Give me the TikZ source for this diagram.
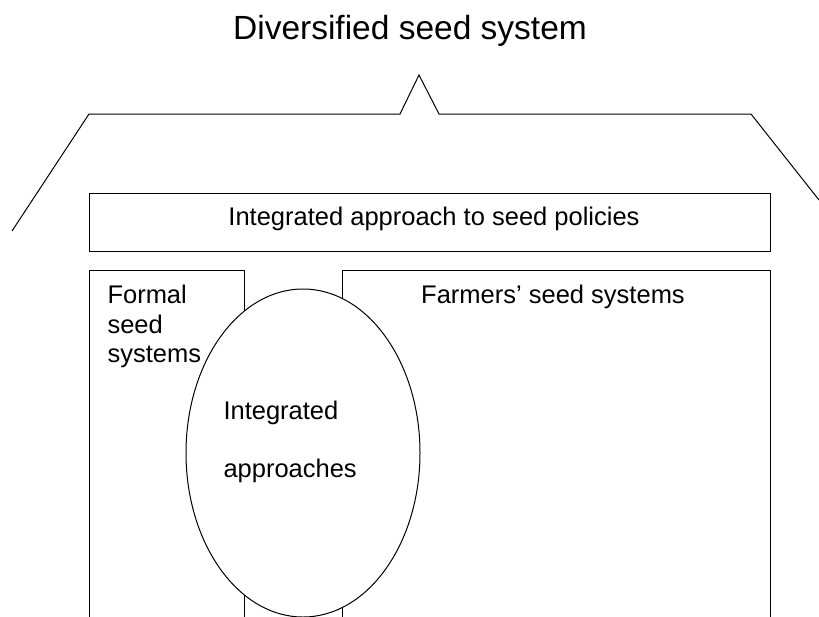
\documentclass[tikz,border=0pt]{standalone}
\usepackage{fontspec}
\setmainfont{Liberation Sans}
\usepackage{tikz}
\usepackage{xcolor}
\usetikzlibrary{shapes.geometric}

\begin{document}
\begin{tikzpicture}[x=1pt,y=-1pt,line width=1pt,every node/.style={font=\fontsize{25.5}{29.5}\selectfont,inner sep=0pt}]
    \clip (0,0) rectangle (819,616);
    \node[anchor=base,font=\fontsize{33.5}{36}\selectfont] (title) at (410,39) {Diversified seed system};
    \draw (12,231)--(89,114)--(400,114)--(419,75)--(439,114)--(751,114)--(819,200);
    \node[draw,minimum width=681pt,minimum height=58pt] (pol) at (429.5,222) {};
    \node[anchor=base] (poltxt) at (434,225) {Integrated approach to seed policies};
    \node[draw,anchor=north west,minimum width=155pt,minimum height=400pt] (formal) at (89,270) {};
    \node[draw,anchor=north west,minimum width=428pt,minimum height=400pt] (farm) at (342,270) {};
    \node[anchor=north west,align=left] (formaltxt) at (107,285) {Formal\\seed\\systems};
    \node[anchor=north] (farmtxt) at (553,285) {Farmers' seed systems};
    \node[draw,ellipse,fill=white,minimum width=234pt,minimum height=328pt] (integ) at (303,453) {};
    \node[anchor=north west,align=left,font=\fontsize{25.5}{58}\selectfont] (integtxt) at (223,401) {Integrated\\approaches};
  \end{tikzpicture}
\end{document}
